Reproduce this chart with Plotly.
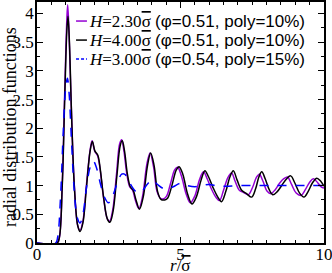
import plotly.graph_objects as go

# H = 4.00 (black)
r_h400 = [0, 0.7, 0.78, 0.88, 0.97, 1.04, 1.08, 1.13, 1.2, 1.3, 1.42, 1.5, 1.6, 1.72, 1.85, 1.93,
          2.02, 2.12, 2.2, 2.32, 2.45, 2.54, 2.65, 2.78, 2.9, 2.97, 3.05, 3.15, 3.25, 3.35, 3.45,
          3.57, 3.7, 3.85, 3.96, 4.08, 4.2, 4.32, 4.45, 4.55, 4.7, 4.85, 4.95, 5.08, 5.25, 5.4,
          5.55, 5.72, 5.85, 5.98, 6.13, 6.3, 6.43, 6.58, 6.72, 6.84, 6.97, 7.13, 7.3, 7.48, 7.62,
          7.73, 7.83, 7.95, 8.1, 8.22, 8.38, 8.55, 8.7, 8.84, 8.98, 9.15, 9.3, 9.45, 9.6, 9.75,
          9.88, 10]
g_h400 = [0, 0, 0.1, 1.0, 2.6, 3.7, 3.95, 3.5, 2.3, 1.0, 0.3, 0.2, 0.35, 0.95, 1.6, 1.77,
          1.6, 1.53, 1.3, 0.8, 0.42, 0.36, 0.55, 1.15, 1.7, 1.78, 1.6, 1.2, 0.98, 0.92, 0.75,
          0.59, 0.8, 1.35, 1.57, 1.35, 0.9, 0.76, 0.75, 0.78, 1.0, 1.27, 1.33, 1.2, 0.85, 0.68,
          0.8, 1.1, 1.26, 1.15, 0.97, 0.8, 0.72, 0.9, 1.15, 1.26, 1.1, 0.92, 0.86, 0.8, 0.95,
          1.15, 1.24, 1.12, 0.92, 0.84, 0.9, 1.02, 1.12, 1.17, 1.05, 0.87, 0.8, 0.9, 1.05, 1.13,
          1.08, 0.99]

# H = 2.30 (violet)
r_h230 = [0, 0.7, 0.78, 0.88, 0.97, 1.04, 1.07, 1.12, 1.2, 1.3, 1.42, 1.5, 1.6, 1.72, 1.85, 1.92,
          2.01, 2.11, 2.2, 2.32, 2.45, 2.53, 2.64, 2.77, 2.88, 2.95, 3.03, 3.13, 3.23, 3.33, 3.43,
          3.55, 3.68, 3.83, 3.94, 4.06, 4.18, 4.3, 4.42, 4.52, 4.66, 4.8, 4.9, 5.03, 5.2, 5.34,
          5.5, 5.66, 5.8, 5.93, 6.07, 6.23, 6.36, 6.5, 6.65, 6.78, 6.9, 7.05, 7.2, 7.36, 7.52,
          7.64, 7.75, 7.87, 8.02, 8.15, 8.3, 8.45, 8.6, 8.73, 8.87, 9.03, 9.2, 9.35, 9.5, 9.63,
          9.78, 9.9, 10]
g_h230 = [0, 0, 0.1, 1.05, 2.7, 3.9, 4.15, 3.6, 2.3, 1.0, 0.3, 0.22, 0.38, 1.0, 1.62, 1.78,
          1.6, 1.52, 1.28, 0.78, 0.42, 0.38, 0.58, 1.2, 1.73, 1.8, 1.6, 1.2, 0.98, 0.92, 0.74,
          0.6, 0.82, 1.38, 1.57, 1.33, 0.9, 0.78, 0.77, 0.82, 1.05, 1.28, 1.32, 1.17, 0.85, 0.7,
          0.82, 1.1, 1.24, 1.12, 0.95, 0.8, 0.74, 0.92, 1.14, 1.22, 1.08, 0.92, 0.88, 0.84, 0.98,
          1.14, 1.2, 1.08, 0.9, 0.86, 0.93, 1.04, 1.12, 1.15, 1.02, 0.87, 0.83, 0.93, 1.06, 1.12,
          1.05, 0.98, 0.96]

# H = 3.00 (blue dashed)
r_h300 = [0, 0.65, 0.72, 0.82, 0.92, 1.0, 1.06, 1.12, 1.2, 1.3, 1.4, 1.5, 1.6, 1.72, 1.85, 1.96,
          2.08, 2.2, 2.35, 2.49, 2.62, 2.8, 2.95, 3.05, 3.2, 3.35, 3.5, 3.65, 3.85, 4.02, 4.2,
          4.4, 4.55, 4.75, 5.0, 5.25, 5.5, 5.75, 6.0, 6.3, 6.6, 7.0, 7.5, 8.0, 8.5, 9.0, 9.5, 10]
g_h300 = [0, 0, 0.1, 0.8, 2.0, 2.7, 2.87, 2.6, 1.8, 0.9, 0.45, 0.35, 0.5, 0.95, 1.32, 1.43,
          1.3, 1.05, 0.8, 0.7, 0.8, 1.05, 1.2, 1.2, 1.08, 0.95, 0.88, 0.9, 1.03, 1.1, 1.02,
          0.95, 0.94, 0.98, 1.04, 1.0, 0.98, 1.0, 1.02, 0.99, 0.99, 1.0, 1.0, 1.0, 1.0, 1.0, 1.0, 1.0]

SERIF = "Liberation Serif"
SANS = "Liberation Sans"
SIG = '<span style="text-decoration:overline">σ</span>'


def label(h, phi, poly):
    return ('<i>H</i>=%s%s <span style="font-family:%s">(φ=%s, poly=%s%%)</span>'
            % (h, SIG, SANS, phi, poly))


series = [
    (r_h230, g_h230, '#9400d3', 'solid', label('2.30', '0.51', '10')),
    (r_h400, g_h400, 'black', 'solid', label('4.00', '0.51', '10')),
    (r_h300, g_h300, '#0000ff', 'dash', label('3.00', '0.54', '15')),
]

fig = go.Figure()
annotations = []
shapes = []
# hand-drawn legend (short sample lines, tight rows as in the original)
legend_rows = [0.921, 0.842, 0.763]
for (r, g, color, dash, name), ly in zip(series, legend_rows):
    fig.add_trace(go.Scatter(x=r, y=g, mode='lines', line_shape='spline',
                             line=dict(color=color, width=1.5, dash=dash), name=name))
    shapes.append(dict(type='line', xref='paper', yref='paper', x0=0.136, x1=0.174,
                       y0=ly, y1=ly, line=dict(color=color, width=1.5,
                                               dash='3px,2px' if dash == 'dash' else 'solid')))
    annotations.append(dict(text=name, xref='paper', yref='paper', x=0.174, y=ly,
                            xanchor='left', yanchor='middle', showarrow=False,
                            font=dict(family=SERIF, size=17)))

annotations += [
    dict(text='<i>r</i>/' + SIG, xref='paper', yref='paper', x=0.5, y=-0.095,
         xanchor='center', yanchor='middle', showarrow=False,
         font=dict(family=SERIF, size=17)),
    dict(text='radial distribution functions', xref='paper', yref='paper',
         x=-0.094, y=0.481, xanchor='center', yanchor='middle', textangle=-90,
         showarrow=False, font=dict(family=SERIF, size=18)),
]

axis_common = dict(showline=True, linecolor='black', linewidth=1.5, mirror='ticks',
                   ticks='inside', ticklen=6, tickwidth=1, tickcolor='black',
                   showgrid=False, zeroline=False, automargin=False,
                   ticklabeloverflow='allow',
                   tickfont=dict(family=SERIF, size=17, color='black'))

fig.update_layout(
    width=332, height=273,
    margin=dict(l=37, r=8, t=2, b=30),
    plot_bgcolor='white', paper_bgcolor='white',
    font=dict(family=SERIF, size=17, color='black'),
    showlegend=False,
    xaxis=dict(range=[0, 10], tickvals=[0, 5, 10], ticklabelstandoff=-5,
               minor=dict(dtick=0.5, ticks='inside', ticklen=3, tickcolor='black'),
               **axis_common),
    yaxis=dict(range=[0, 4.2], dtick=0.5, tickformat='~g', ticklabelstandoff=-2,
               minor=dict(dtick=0.25, ticks='inside', ticklen=3, tickcolor='black'),
               **axis_common),
    annotations=annotations,
    shapes=shapes,
)

# page body has a default 8px margin; drop it so the figure sits at the window corner
fig.write_html("out.html", config={'displayModeBar': False},
               post_script="document.body.style.margin='0';document.body.style.overflow='hidden';")
